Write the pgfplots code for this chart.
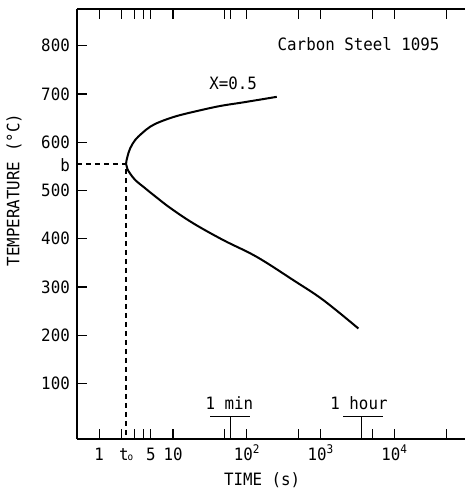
\documentclass[border=0pt]{standalone}
\usepackage{fontspec}
\setmainfont{DejaVu Sans Mono}[FakeStretch=0.93]
\usepackage{pgfplots}
\pgfplotsset{compat=1.18}
\begin{document}
\fontsize{17bp}{20bp}\selectfont
\begin{tikzpicture}
\useasboundingbox (-77bp,-55bp) rectangle (388bp,439bp);
\begin{axis}[
  at={(0,0)}, anchor=south west,
  scale only axis, width=388bp, height=430bp,
  xmode=log, xmin=0.5, xmax=9e4, ymin=-15, ymax=876,
  axis x line*=box, axis y line*=left,
  axis line style={line width=1.5bp, -},
  xtick pos=both, ytick pos=left,
  tick align=inside,
  major tick length=10bp,
  xminorticks=false, yminorticks=false,
  tick style={line width=1.2bp, black},
  xtick={1,2,3,4,5,10,50,60,100,500,1000,5000,10000,50000},
  xticklabels={1,,,,5,10,,,10\textsuperscript{2},,10\textsuperscript{3},,10\textsuperscript{4},},
  ytick={100,200,300,400,500,600,700,800},
  yticklabels={100,200,300,400,500,600,700,800},
  extra x ticks={2.31}, extra x tick labels={t\kern-1pt{\fontsize{10bp}{10bp}\selectfont o}},
  extra y ticks={553}, extra y tick labels={b},
  extra tick style={major tick length=0pt},
  xticklabel style={anchor=base, inner sep=0pt, yshift=-21bp},
  yticklabel style={anchor=east, inner sep=0pt, xshift=-7bp},
  xlabel={TIME (s)},
  xlabel style={at={(axis description cs:0.477,-0.095)}, anchor=center},
  ylabel={TEMPERATURE (°C)},
  ylabel style={at={(axis description cs:-0.162,0.579)}, anchor=center},
]
\addplot[black, line width=2bp, smooth, tension=0.6, no marks] coordinates {
(254,694) (89.7,682.6) (43.4,675) (21,664.5) (11.2,654.2) (6.68,642.3) (4.89,632) (3.78,618.3) (3.06,604.4) (2.62,587) (2.41,569.8) (2.31,555)
(2.40,545) (2.62,535) (3.1,521) (3.97,507.5) (5.5,490) (9.12,464) (18.9,431.7) (48.1,397) (136,362.4) (427,314) (1087,272.7) (3236,214)
};
\draw[line width=1.2bp, dash pattern=on 5bp off 4bp] (axis cs:0.5,555) -- (axis cs:2.31,555) -- (axis cs:2.31,-15);
\draw[line width=1.2bp] (axis cs:60,-15) -- (axis cs:60,31);
\draw[line width=1.2bp] (axis cs:32,31) -- (axis cs:110,31);
\node at (axis cs:58,59) {1 min};
\draw[line width=1.2bp] (axis cs:3600,-15) -- (axis cs:3600,31);
\draw[line width=1.2bp] (axis cs:2028,31) -- (axis cs:6930,31);
\node at (axis cs:3300,59) {1 hour};
\node at (axis cs:65,722) {X=0.5};
\node at (axis cs:3260,803) {Carbon Steel 1095};
\end{axis}
\end{tikzpicture}
\end{document}
